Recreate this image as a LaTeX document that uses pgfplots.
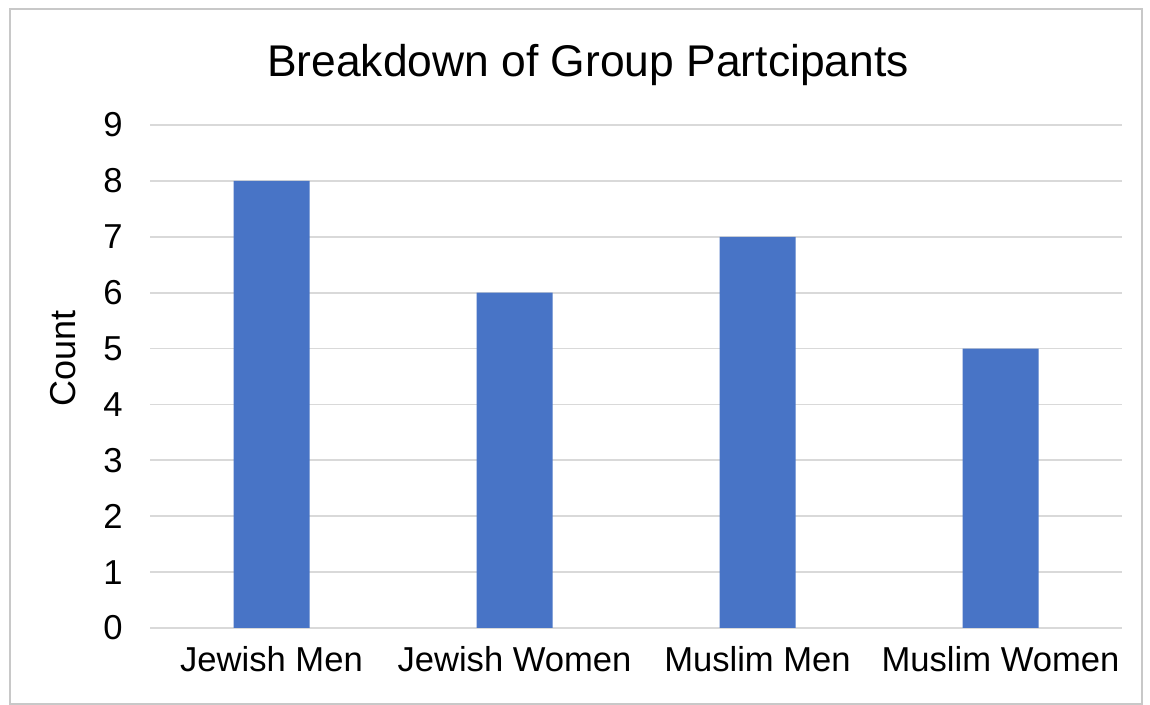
\documentclass[border=0pt]{standalone}
\usepackage{fontspec}
\setmainfont{Liberation Sans}
\usepackage{pgfplots}
\pgfplotsset{compat=1.18}
\definecolor{barblue}{HTML}{4874C6}
\definecolor{gridgray}{HTML}{D9D9D9}
\definecolor{framegray}{HTML}{C8C8C8}
\begin{document}
\begin{tikzpicture}
\path[use as bounding box] (0,0) rectangle (575pt,352.5pt);
\fill[white] (0,0) rectangle (575pt,352.5pt);
\draw[framegray, line width=0.8pt] (5pt,0.5pt) rectangle (571pt,348pt);
\begin{axis}[
  at={(75pt,38.5pt)}, anchor=south west,
  scale only axis, width=486pt, height=251.5pt,
  xmin=-0.5, xmax=3.5, ymin=0, ymax=9,
  xtick={0,1,2,3},
  xticklabels={Jewish Men, Jewish Women, Muslim Men, Muslim Women},
  ytick={0,1,...,9},
  axis line style={draw=none},
  axis x line*=bottom,
  major tick length=0pt,
  ymajorgrids, grid style={gridgray, line width=0.9pt},
  /pgf/number format/assume math mode=true,
  tick label style={font=\fontsize{17.3pt}{20pt}\selectfont, text=black},
  xticklabel style={anchor=base, inner sep=0pt, yshift=-22pt},
  yticklabel style={anchor=east, inner sep=0pt, xshift=-13.5pt},
  title={Breakdown of Group Partcipants},
  title style={font=\fontsize{22.2pt}{26pt}\selectfont, anchor=base, at={(axis description cs:0.4506,1.0716)}},
  ylabel={Count},
  ylabel style={font=\fontsize{18pt}{21pt}\selectfont, rotate=0, anchor=center, at={(axis description cs:-0.0895,0.535)}},
  ybar, bar width=38pt,
  clip=false,
]
\addplot[fill=barblue, draw=none] coordinates {(0,8) (1,6) (2,7) (3,5)};
\end{axis}
\end{tikzpicture}
\end{document}
